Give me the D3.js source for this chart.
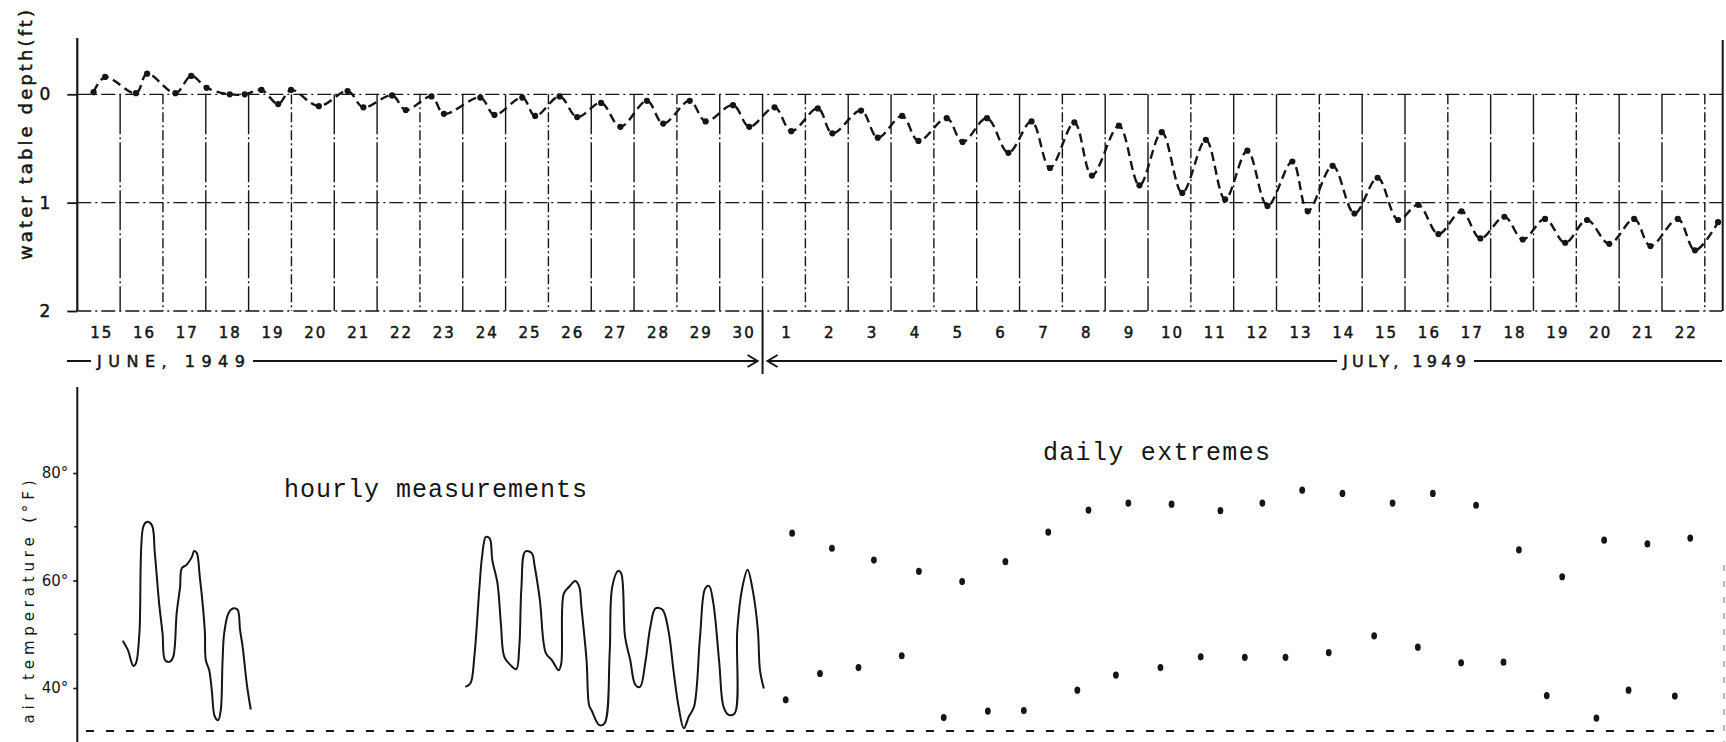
<!DOCTYPE html>
<html>
<head>
<meta charset="utf-8">
<script src="https://cdn.jsdelivr.net/npm/d3@7"></script>
<style>
  body { margin: 0; background: #fff; }
  svg { display: block; }
  text { fill: #151515; font-family: "DejaVu Sans", sans-serif; }
  .type { font-family: "Liberation Mono", "Courier New", monospace; }
  .heavy { stroke: #151515; stroke-width: 0.5px; }
</style>
</head>
<body>
<svg width="1726" height="742"></svg>
<script>
// day labels along the bottom of the upper panel
var juneDays = d3.range(15, 31);
var julyDays = d3.range(1, 23);
var depthTicks = [0, 1, 2];
var tempTicks = [40, 60, 80];
var tempMinor = [50, 70];

// water table depth (ft), time in days since June 15 00:00
var wtTime = [0.38,0.65,1.37,1.63,2.29,2.66,3.02,3.56,3.91,4.30,4.69,4.99,5.64,6.31,6.68,7.35,7.67,8.27,8.56,9.41,
  9.74,10.39,10.69,11.26,11.67,12.23,12.68,13.30,13.68,14.30,14.67,15.31,15.69,16.28,16.67,17.29,17.63,18.30,18.69,19.26,
  19.64,20.30,20.67,21.24,21.74,22.28,22.71,23.28,23.69,24.32,24.80,25.32,25.80,26.35,26.80,27.32,27.79,28.37,28.73,29.31,
  29.82,30.36,30.84,31.31,31.78,32.32,32.76,33.32,33.75,34.27,34.74,35.25,35.77,36.35,36.73,37.37,37.77,38.31];
var wtDepth = [-0.02,-0.16,-0.01,-0.19,-0.01,-0.17,-0.06,0.0,0.0,-0.04,0.09,-0.04,0.11,-0.03,0.12,0.01,0.145,0.02,0.18,0.03,
  0.19,0.03,0.20,0.02,0.21,0.08,0.30,0.06,0.27,0.06,0.25,0.10,0.30,0.12,0.34,0.13,0.36,0.15,0.40,0.20,
  0.43,0.22,0.44,0.22,0.54,0.25,0.68,0.26,0.75,0.29,0.84,0.35,0.91,0.42,0.97,0.52,1.03,0.62,1.08,0.66,
  1.10,0.77,1.16,1.02,1.29,1.08,1.33,1.13,1.34,1.15,1.37,1.16,1.38,1.15,1.40,1.15,1.44,1.18];

// hourly air temperature (F), two recorded stretches
var hourTime1 = [1.06,1.18,1.31,1.37,1.45,1.54,1.62,1.74,1.81,1.91,1.99,2.05,2.16,2.24,2.32,2.40,2.44,2.55,2.67,2.73,
  2.79,2.86,2.94,2.98,3.00,3.08,3.14,3.21,3.29,3.35,3.39,3.43,3.53,3.63,3.74,3.80,3.86,3.96,4.05];
var hourTemp1 = [48.8,47.1,44.1,44.6,50.2,70.0,70.9,70.3,65.1,55.8,50.2,45.2,44.9,45.8,53.9,58.8,62.3,62.9,64.3,65.5,
  65.1,60.7,54.5,50.2,45.2,43.3,39.6,34.7,34.0,35.9,44.6,50.2,53.9,54.8,54.6,50.8,47.7,40.6,36.0];
var hourTime2 = [9.06,9.18,9.27,9.39,9.45,9.54,9.63,9.69,9.81,9.89,9.97,10.11,10.25,10.32,10.37,10.46,10.61,10.68,10.80,10.94,
  11.08,11.24,11.30,11.36,11.48,11.63,11.72,11.77,11.89,11.95,12.01,12.19,12.31,12.43,12.49,12.63,12.70,12.79,12.91,13.03,
  13.14,13.26,13.38,13.50,13.66,13.80,13.92,14.04,14.16,14.28,14.40,14.54,14.66,14.75,14.85,14.99,15.09,15.21,15.35,15.41,
  15.53,15.65,15.77,15.89,15.94,16.03];
var hourTemp2 = [40.2,40.9,45.8,58.8,64.4,68.1,67.8,63.8,59.5,52.0,45.8,44.3,43.5,47.7,58.8,65.4,65.1,62.6,56.4,46.5,
  45.2,43.3,44.6,57.6,58.8,59.9,58.8,55.1,45.2,36.8,35.8,33.1,33.4,46.5,58.8,61.8,61.3,49.5,45.2,40.6,
  40.2,44.6,51.4,54.8,54.6,50.8,43.3,36.5,32.5,34.7,36.5,49.5,58.5,59.0,55.8,44.6,36.5,35.0,35.3,50.8,
  58.8,62.0,58.2,50.8,43.3,39.9];

// daily extremes, July 1-22
var minTime = [16.54,17.34,18.24,19.25,20.23,21.26,22.10,23.35,24.25,25.29,26.23,27.26,28.21,29.22,30.28,31.30,32.31,33.30,34.31,35.47,36.22,37.30];
var minTemp = [37.8,42.7,43.8,46.0,34.5,35.7,35.8,39.6,42.4,43.8,45.8,45.7,45.7,46.6,49.7,47.6,44.7,44.8,38.6,34.4,39.6,38.5];
var maxTime = [16.69,17.62,18.60,19.65,20.66,21.67,22.67,23.61,24.54,25.55,26.69,27.67,28.60,29.54,30.71,31.65,32.66,33.66,34.67,35.65,36.66,37.66];
var maxTemp = [68.8,66.0,63.8,61.7,59.8,63.5,69.0,73.1,74.4,74.2,73.0,74.4,76.8,76.2,74.4,76.2,74.0,65.7,60.7,67.5,66.8,67.9];
var freezing = 32;

var svg = d3.select("svg");

var x = d3.scaleLinear().domain([0, 38]).range([77.3, 1704.8]);
var yDepth = d3.scaleLinear().domain([0, 2]).range([94.3, 311]);
var yTemp = d3.scaleLinear().domain([40, 80]).range([688, 473]);

var ink = "#151515";

// ---------- upper panel: water table ----------
var upper = svg.append("g");

// day boundary lines
upper.selectAll(".vgrid")
  .data(d3.range(1, 39))
  .enter().append("line")
  .attr("x1", function(d) { return x(d); })
  .attr("x2", function(d) { return x(d); })
  .attr("y1", yDepth(0))
  .attr("y2", yDepth(2))
  .attr("stroke", ink)
  .attr("stroke-width", 1.4)
  .attr("stroke-dasharray", function(d, i) { return i % 3 == 1 ? "10,3,2,3" : "40,3,2,3"; });

upper.selectAll(".hgrid")
  .data(depthTicks)
  .enter().append("line")
  .attr("x1", x(0))
  .attr("x2", 1722)
  .attr("y1", function(d) { return yDepth(d); })
  .attr("y2", function(d) { return yDepth(d); })
  .attr("stroke", ink)
  .attr("stroke-width", 1.3)
  .attr("stroke-dasharray", "14,4,2,4");

// left axis
upper.append("line")
  .attr("x1", x(0)).attr("x2", x(0))
  .attr("y1", 38).attr("y2", yDepth(2))
  .attr("stroke", ink).attr("stroke-width", 2.2);
// right edge
upper.append("line")
  .attr("x1", 1722.7).attr("x2", 1722.7)
  .attr("y1", 40).attr("y2", yDepth(2))
  .attr("stroke", ink).attr("stroke-width", 2);

var depthAxis = upper.append("g")
  .attr("transform", "translate(" + x(0) + ",0)")
  .call(d3.axisLeft(yDepth).tickValues(depthTicks).tickSize(10).tickPadding(17).tickFormat(d3.format("d")));
depthAxis.select(".domain").remove();
depthAxis.selectAll("line").attr("stroke", ink).attr("stroke-width", 1.8);
depthAxis.selectAll("text")
  .attr("class", "heavy")
  .style("font-family", "DejaVu Sans").style("font-size", "17px")
  .attr("fill", ink);

upper.append("text")
  .attr("class", "heavy")
  .attr("transform", "translate(25,135) rotate(-90)")
  .attr("text-anchor", "middle")
  .attr("dominant-baseline", "central")
  .attr("textLength", 250)
  .attr("lengthAdjust", "spacing")
  .style("font-size", "18px")
  .text("water table depth(ft)");

var wtLine = d3.line()
  .x(function(d) { return x(d[0]); })
  .y(function(d) { return yDepth(d[1]); })
  .curve(d3.curveCatmullRom.alpha(0.5));
var wtData = d3.zip(wtTime, wtDepth);

upper.append("path")
  .datum(wtData)
  .attr("d", wtLine)
  .attr("fill", "none")
  .attr("stroke", ink)
  .attr("stroke-width", 2.4)
  .attr("stroke-dasharray", "9,5");

upper.selectAll(".wt")
  .data(wtData)
  .enter().append("circle")
  .attr("cx", function(d) { return x(d[0]); })
  .attr("cy", function(d) { return yDepth(d[1]); })
  .attr("r", 3.1)
  .attr("fill", ink);

// day labels
var dayLabels = juneDays.concat(julyDays);
upper.selectAll(".day")
  .data(dayLabels)
  .enter().append("text")
  .attr("class", "heavy")
  .attr("x", function(d, i) { return x(i + 0.5) + 3; })
  .attr("y", 338)
  .attr("text-anchor", "middle")
  .style("font-size", "15px")
  .style("letter-spacing", "2px")
  .text(function(d) { return d; });

// month separators
var monthY = 361;
upper.append("line")
  .attr("x1", x(16)).attr("x2", x(16))
  .attr("y1", yDepth(2)).attr("y2", 374)
  .attr("stroke", ink).attr("stroke-width", 2);

var months = [
  { label: "JUNE, 1949", x: 97, len: 148, from: 67, to: x(16) - 5, arrow: "right" },
  { label: "JULY, 1949", x: 1343, len: 123, from: x(16) + 5, to: 1722, arrow: "left" }
];
months.forEach(function(m) {
  upper.append("text")
    .attr("class", "heavy")
    .attr("x", m.x).attr("y", monthY)
    .attr("dominant-baseline", "central")
    .attr("textLength", m.len)
    .attr("lengthAdjust", "spacing")
    .style("font-size", "16px")
    .text(m.label);
  upper.append("line")
    .attr("x1", m.from).attr("x2", m.x - 6)
    .attr("y1", monthY).attr("y2", monthY)
    .attr("stroke", ink).attr("stroke-width", 2);
  upper.append("line")
    .attr("x1", m.x + m.len + 8).attr("x2", m.to)
    .attr("y1", monthY).attr("y2", monthY)
    .attr("stroke", ink).attr("stroke-width", 2);
  var tip = m.arrow == "right" ? m.to : m.from;
  var dir = m.arrow == "right" ? -1 : 1;
  upper.append("path")
    .attr("d", "M" + (tip + dir * 10) + "," + (monthY - 6) + "L" + tip + "," + monthY + "L" + (tip + dir * 10) + "," + (monthY + 6))
    .attr("fill", "none").attr("stroke", ink).attr("stroke-width", 2);
});

// ---------- lower panel: air temperature ----------
var lower = svg.append("g");

lower.append("line")
  .attr("x1", x(0)).attr("x2", x(0))
  .attr("y1", 387).attr("y2", 742)
  .attr("stroke", ink).attr("stroke-width", 2);

lower.append("line")
  .attr("x1", 1724).attr("x2", 1724)
  .attr("y1", 565).attr("y2", 742)
  .attr("stroke", "#777").attr("stroke-width", 1)
  .attr("stroke-dasharray", "6,10");

var tempAxis = lower.append("g")
  .attr("transform", "translate(" + x(0) + ",0)")
  .call(d3.axisLeft(yTemp).tickValues(tempTicks).tickSize(4).tickPadding(5).tickFormat(function(d) { return d + "°"; }));
tempAxis.select(".domain").remove();
tempAxis.selectAll("line").attr("stroke", ink).attr("stroke-width", 1.6);
tempAxis.selectAll("text")
  .style("font-family", "DejaVu Sans").style("font-size", "15px")
  .attr("fill", ink);

lower.selectAll(".minor")
  .data(tempMinor)
  .enter().append("line")
  .attr("x1", x(0) - 3).attr("x2", x(0))
  .attr("y1", function(d) { return yTemp(d); })
  .attr("y2", function(d) { return yTemp(d); })
  .attr("stroke", ink).attr("stroke-width", 1.5);

lower.append("text")
  .attr("transform", "translate(29,602) rotate(-90)")
  .attr("text-anchor", "middle")
  .attr("dominant-baseline", "central")
  .attr("textLength", 243)
  .attr("lengthAdjust", "spacing")
  .style("font-size", "15px")
  .text("air temperature (°F)");

lower.append("line")
  .attr("x1", 86).attr("x2", 1726)
  .attr("y1", yTemp(freezing)).attr("y2", yTemp(freezing))
  .attr("stroke", ink).attr("stroke-width", 2)
  .attr("stroke-dasharray", "8,12");

var tempLine = d3.line()
  .x(function(d) { return x(d[0]); })
  .y(function(d) { return yTemp(d[1]); })
  .curve(d3.curveCatmullRom.alpha(0.5));

[d3.zip(hourTime1, hourTemp1), d3.zip(hourTime2, hourTemp2)].forEach(function(seg) {
  lower.append("path")
    .datum(seg)
    .attr("d", tempLine)
    .attr("fill", "none")
    .attr("stroke", ink)
    .attr("stroke-width", 2)
    .attr("stroke-linejoin", "round");
});

var extremes = d3.zip(maxTime, maxTemp).concat(d3.zip(minTime, minTemp));
lower.selectAll(".ext")
  .data(extremes)
  .enter().append("ellipse")
  .attr("cx", function(d) { return x(d[0]); })
  .attr("cy", function(d) { return yTemp(d[1]); })
  .attr("rx", 2.9)
  .attr("ry", 3.6)
  .attr("fill", ink);

lower.append("text")
  .attr("class", "type")
  .attr("x", 284).attr("y", 497)
  .attr("textLength", 303)
  .attr("lengthAdjust", "spacing")
  .style("font-size", "25px")
  .text("hourly measurements");

lower.append("text")
  .attr("class", "type")
  .attr("x", 1043).attr("y", 460)
  .attr("textLength", 227)
  .attr("lengthAdjust", "spacing")
  .style("font-size", "25px")
  .text("daily extremes");
</script>
</body>
</html>
